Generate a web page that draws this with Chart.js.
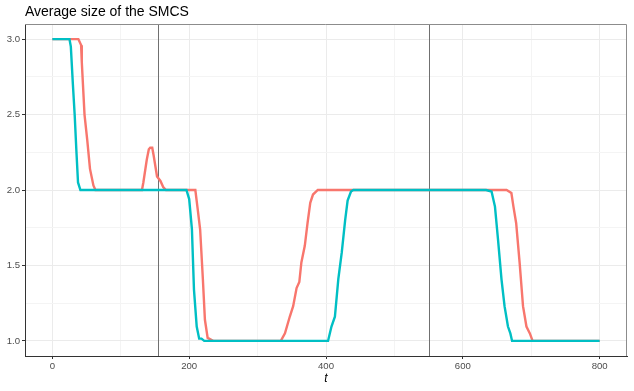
<!DOCTYPE html>
<html>
<head>
<meta charset="utf-8">
<script src="https://cdn.jsdelivr.net/npm/chart.js@4/dist/chart.umd.min.js"></script>
<style>
  html, body { margin: 0; padding: 0; background: #fff; }
</style>
</head>
<body>
<canvas id="smcsChart" width="634" height="391"></canvas>
<script>
// red series (t, average size)
const tRed = [0, 38, 42, 43, 47, 51, 55, 60, 63, 131, 133, 138, 141, 143, 146, 148, 153, 158, 162, 166,
    209, 212, 216, 220, 223, 227, 235, 334, 340, 347, 352, 357, 361, 364, 369, 373, 377, 381, 388,
    664, 671, 674, 678, 683, 688, 693, 698, 702, 800];
const sizeRed = [3, 3, 2.96, 2.85, 2.5, 2.33, 2.14, 2.03, 2, 2, 2.05, 2.2, 2.27, 2.28, 2.28, 2.23, 2.09, 2.06, 2.02, 2,
    2, 1.89, 1.74, 1.41, 1.14, 1.02, 1, 1, 1.05, 1.16, 1.23, 1.35, 1.39, 1.52, 1.63, 1.78, 1.915, 1.97, 2,
    2, 1.98, 1.89, 1.78, 1.52, 1.23, 1.095, 1.05, 1, 1];

// teal series
const tTeal = [0, 25, 27, 30, 32.6, 35, 37.5, 41, 196, 200, 204, 207, 211, 214.6, 218, 222,
    403, 408, 413, 418, 423, 428, 431.6, 436.5, 440, 634, 642, 647, 651.5, 656.5, 661, 666, 669.5, 672, 800];
const sizeTeal = [3, 3, 2.95, 2.7, 2.5, 2.27, 2.05, 2, 2, 1.94, 1.74, 1.34, 1.095, 1.015, 1.015, 1,
    1, 1.095, 1.16, 1.41, 1.585, 1.8, 1.93, 1.99, 2, 2, 1.99, 1.89, 1.67, 1.41, 1.23, 1.095, 1.05, 1, 1];

const markerTimes = [154, 550];
const xTicks = [0, 200, 400, 600, 800];
const yTicks = [1.0, 1.5, 2.0, 2.5, 3.0];

function toPoints(xs, ys) {
    return xs.map(function (t, i) { return { x: t, y: ys[i] }; });
}

function isMajor(list, v) {
    return list.some(function (m) { return Math.abs(m - v) < 1e-6; });
}

const decorations = {
    id: "decorations",
    beforeDatasetsDraw(chart) {
        const ctx = chart.ctx;
        const a = chart.chartArea;
        const x = chart.scales.x;
        ctx.save();
        ctx.strokeStyle = "#707070";
        ctx.lineWidth = 1;
        markerTimes.forEach(function (t) {
            const px = Math.round(x.getPixelForValue(t)) + 0.5;
            ctx.beginPath();
            ctx.moveTo(px, a.top);
            ctx.lineTo(px, a.bottom);
            ctx.stroke();
        });
        ctx.restore();
    },
    afterDraw(chart) {
        const ctx = chart.ctx;
        const a = chart.chartArea;
        ctx.save();
        // top and right panel border
        ctx.strokeStyle = "#8c8c8c";
        ctx.lineWidth = 1;
        ctx.beginPath();
        ctx.moveTo(a.left, a.top + 0.5);
        ctx.lineTo(a.right - 0.5, a.top + 0.5);
        ctx.lineTo(a.right - 0.5, a.bottom);
        ctx.stroke();
        // titles
        ctx.fillStyle = "#000";
        ctx.textBaseline = "alphabetic";
        ctx.textAlign = "left";
        ctx.font = "14px 'Liberation Sans', Arial, sans-serif";
        ctx.fillText("Average size of the SMCS", 25, 16);
        ctx.textAlign = "center";
        ctx.font = "italic 12px 'Liberation Sans', Arial, sans-serif";
        ctx.fillText("t", (a.left + a.right) / 2, 382);
        ctx.restore();
    }
};

const ctx = document.getElementById("smcsChart").getContext("2d");

new Chart(ctx, {
    type: "line",
    data: {
        datasets: [
            {
                label: "red",
                data: toPoints(tRed, sizeRed),
                borderColor: "#F8766D",
                borderWidth: 2.4,
                pointRadius: 0,
                tension: 0,
                order: 1
            },
            {
                label: "teal",
                data: toPoints(tTeal, sizeTeal),
                borderColor: "#00BFC4",
                borderWidth: 2.4,
                pointRadius: 0,
                tension: 0,
                order: 0
            }
        ]
    },
    options: {
        responsive: false,
        animation: false,
        devicePixelRatio: 1,
        layout: { padding: { top: 24, right: 7, left: 0, bottom: 0 } },
        plugins: {
            legend: { display: false },
            tooltip: { enabled: false },
            title: { display: false }
        },
        scales: {
            x: {
                type: "linear",
                min: -40,
                max: 840,
                afterBuildTicks: function (axis) {
                    const ticks = [];
                    for (let v = 0; v <= 800; v += 100) ticks.push({ value: v });
                    axis.ticks = ticks;
                },
                afterFit: function (axis) { axis.height = 35; },
                border: { display: true, color: "#333333", width: 1 },
                grid: {
                    color: function (c) { return isMajor(xTicks, c.tick.value) ? "#EBEBEB" : "#F4F4F4"; },
                    tickColor: function (c) { return isMajor(xTicks, c.tick.value) ? "#333333" : "rgba(0,0,0,0)"; },
                    tickLength: 3
                },
                ticks: {
                    color: "#4D4D4D",
                    font: { family: "'Liberation Sans', Arial, sans-serif", size: 9.6 },
                    padding: 2,
                    maxRotation: 0,
                    autoSkip: false,
                    callback: function (v) { return isMajor(xTicks, v) ? String(v) : ""; }
                }
            },
            y: {
                type: "linear",
                min: 0.9,
                max: 3.1,
                afterBuildTicks: function (axis) {
                    const ticks = [];
                    for (let v = 1; v <= 3.0001; v += 0.25) ticks.push({ value: v });
                    axis.ticks = ticks;
                },
                afterFit: function (axis) { axis.width = 25; },
                border: { display: true, color: "#333333", width: 1 },
                grid: {
                    color: function (c) { return isMajor(yTicks, c.tick.value) ? "#EBEBEB" : "#F4F4F4"; },
                    tickColor: function (c) { return isMajor(yTicks, c.tick.value) ? "#333333" : "rgba(0,0,0,0)"; },
                    tickLength: 3
                },
                ticks: {
                    color: "#4D4D4D",
                    font: { family: "'Liberation Sans', Arial, sans-serif", size: 9.6 },
                    padding: 2,
                    autoSkip: false,
                    callback: function (v) { return isMajor(yTicks, v) ? v.toFixed(1) : ""; }
                }
            }
        }
    },
    plugins: [decorations]
});
</script>
</body>
</html>
